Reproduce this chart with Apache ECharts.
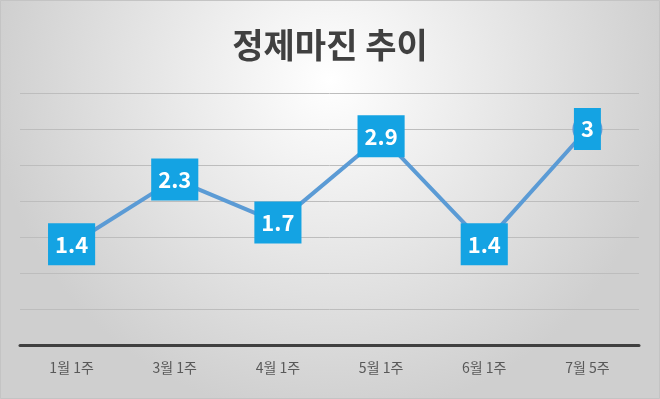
<!DOCTYPE html>
<html>
<head>
<meta charset="utf-8">
<script src="https://cdn.jsdelivr.net/npm/echarts@6/dist/echarts.min.js"></script>
<style>
  html, body { margin: 0; padding: 0; }
  #chart { width: 660px; height: 399px; }
</style>
</head>
<body>
<div id="chart"></div>
<script>
const titleText = '정제마진 추이'
const weeks = ['1월 1주', '3월 1주', '4월 1주', '5월 1주', '6월 1주', '7월 5주']
const margins = [1.4, 2.3, 1.7, 2.9, 1.4, 3]

const chart = echarts.init(document.getElementById('chart'), null, { renderer: 'canvas' })

const option = {
  animation: false,
  backgroundColor: {
    type: 'radial',
    x: 0.5,
    y: 0.2,
    r: 0.85,
    colorStops: [
      { offset: 0, color: '#ffffff' },
      { offset: 1, color: '#cfcfcf' }
    ]
  },
  graphic: [{
    type: 'rect',
    shape: { x: 0.5, y: 0.5, width: 659, height: 398 },
    style: { fill: 'none', stroke: '#c4c4c4', lineWidth: 1 }
  }],
  title: {
    text: titleText,
    left: 'center',
    top: 23,
    textStyle: {
      fontFamily: 'Noto Sans CJK KR',
      fontSize: 34,
      fontWeight: 'bold',
      color: '#404040'
    }
  },
  grid: {
    left: 20,
    right: 21,
    top: 93,
    bottom: 54
  },
  xAxis: {
    type: 'category',
    data: weeks,
    boundaryGap: true,
    axisLine: { lineStyle: { color: '#404040', width: 3 } },
    axisTick: { show: false },
    axisLabel: {
      margin: 16,
      fontFamily: 'Noto Sans CJK KR',
      fontSize: 14,
      color: '#595959'
    }
  },
  yAxis: {
    type: 'value',
    min: 0,
    max: 3.5,
    interval: 0.5,
    axisLine: { show: false },
    axisTick: { show: false },
    axisLabel: { show: false },
    splitLine: { lineStyle: { color: '#bdbdbd', width: 1 } }
  },
  series: [{
    type: 'line',
    data: margins,
    symbol: 'circle',
    symbolSize: 30,
    itemStyle: { color: '#5b9bd5' },
    lineStyle: { color: '#5b9bd5', width: 4 },
    label: {
      show: true,
      position: 'inside',
      fontFamily: 'Noto Sans CJK KR',
      fontSize: 22,
      fontWeight: 'bold',
      color: '#ffffff',
      backgroundColor: '#14a3e3',
      padding: [8, 7, 6, 7],
      lineHeight: 28
    }
  }]
}

chart.setOption(option)
</script>
</body>
</html>
